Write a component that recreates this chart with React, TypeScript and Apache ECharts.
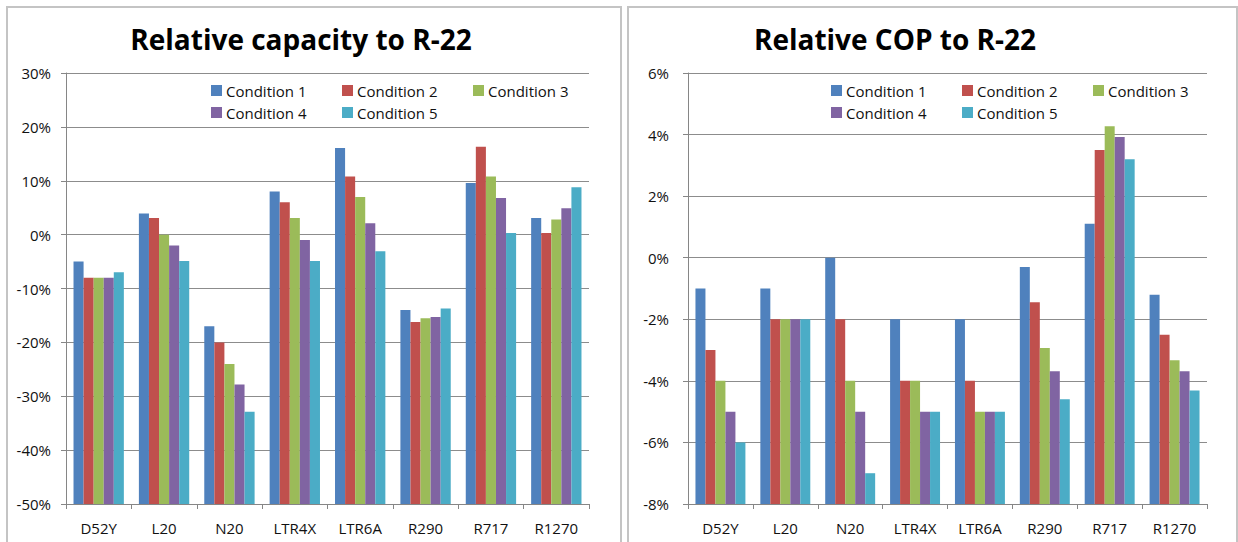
import React, { useEffect, useRef } from "react";
import * as echarts from "echarts";

const categories = ["D52Y", "L20", "N20", "LTR4X", "LTR6A", "R290", "R717", "R1270"];
const seriesNames = ["Condition 1", "Condition 2", "Condition 3", "Condition 4", "Condition 5"];
const colors = ["#4F81BD", "#C0504D", "#9BBB59", "#8064A2", "#4BACC6"];

// Relative capacity to R-22 (%), per condition, per refrigerant
const capacity1 = [-5, 3.9, -17, 8, 16.1, -14, 9.6, 3.1];
const capacity2 = [-8, 3.1, -20, 6, 10.8, -16.2, 16.3, 0.3];
const capacity3 = [-8, 0, -24, 3.1, 7, -15.5, 10.8, 2.8];
const capacity4 = [-8, -2, -27.8, -1, 2.1, -15.3, 6.8, 4.9];
const capacity5 = [-7, -4.9, -32.9, -4.9, -3.1, -13.7, 0.3, 8.8];

// Relative COP to R-22 (%)
const cop1 = [-1, -1, 0, -2, -2, -0.3, 1.1, -1.2];
const cop2 = [-3, -2, -2, -4, -4, -1.45, 3.5, -2.5];
const cop3 = [-4, -2, -4, -4, -5, -2.93, 4.27, -3.33];
const cop4 = [-5, -2, -5, -5, -5, -3.69, 3.92, -3.69];
const cop5 = [-6, -2, -7, -5, -5, -4.6, 3.2, -4.31];

const capacityTicks = { min: -50, max: 30, interval: 10 };
const copTicks = { min: -8, max: 6, interval: 2 };

const titles = ["Relative capacity to R-22", "Relative COP to R-22"];

const FONT = "'Open Sans', Lato, sans-serif";

export default function App() {
  const ref = useRef<HTMLDivElement>(null);

  useEffect(() => {
    if (!ref.current) return;
    const chart = echarts.init(ref.current, undefined, { renderer: "svg" });

    const capData = [capacity1, capacity2, capacity3, capacity4, capacity5];
    const copData = [cop1, cop2, cop3, cop4, cop5];

    const grids = [
      { left: 66, top: 73, width: 523, height: 431 },
      { left: 688, top: 73, width: 519, height: 431 },
    ];

    const makeX = (gridIndex: number) => ({
      type: "category",
      gridIndex,
      data: categories,
      position: "bottom",
      axisLine: { onZero: false, lineStyle: { color: "#868686", width: 1 } },
      axisTick: { show: true, length: 5, lineStyle: { color: "#868686" } },
      axisLabel: { color: "#111", fontSize: 15, fontFamily: FONT, margin: 16 },
      splitLine: { show: false },
    });

    // Excel-style bars grow from the bottom of the axis: the axis is offset so its
    // base sits at the axis minimum, and labels are shifted back by that minimum.
    const makeY = (gridIndex: number, t: { min: number; max: number; interval: number }, margin: number) => ({
      type: "value",
      gridIndex,
      min: 0,
      max: t.max - t.min,
      interval: t.interval,
      axisLine: { show: true, lineStyle: { color: "#868686", width: 1 } },
      axisTick: { show: true, length: 5, lineStyle: { color: "#868686" } },
      axisLabel: {
        color: "#111",
        fontSize: 15,
        fontFamily: FONT,
        margin,
        formatter: (v: number) => `${Math.round(v + t.min)}%`,
      },
      splitLine: { show: true, lineStyle: { color: "#8C8C8C", width: 1 } },
    });

    const series: any[] = [];
    capData.forEach((d, i) => {
      series.push({
        type: "bar",
        name: seriesNames[i],
        xAxisIndex: 0,
        yAxisIndex: 0,
        data: d.map((v) => v - capacityTicks.min),
        barGap: "0%",
        barCategoryGap: "23%",
        itemStyle: { color: colors[i] },
      });
    });
    copData.forEach((d, i) => {
      series.push({
        type: "bar",
        name: seriesNames[i],
        xAxisIndex: 1,
        yAxisIndex: 1,
        data: d.map((v) => v - copTicks.min),
        barGap: "0%",
        barCategoryGap: "23%",
        itemStyle: { color: colors[i] },
      });
    });

    const legendCols = [
      [211, 342, 473],
      [831, 962, 1093],
    ];
    const legendRows = [83, 105];
    const legends: any[] = [];
    legendCols.forEach((cols) => {
      seriesNames.forEach((name, i) => {
        legends.push({
          data: [name],
          left: cols[i % 3],
          top: legendRows[Math.floor(i / 3)],
          icon: "rect",
          itemWidth: 11,
          itemHeight: 11,
          itemGap: 4,
          padding: 0,
          selectedMode: false,
          textStyle: { color: "#111", fontSize: 15, fontFamily: FONT, padding: [0, 0, 0, -1] },
        });
      });
    });

    chart.setOption({
      animation: false,
      backgroundColor: "#fff",
      title: [
        {
          text: titles[0],
          left: 296,
          top: 20,
          textAlign: "center",
          textStyle: { fontSize: 28, fontWeight: "bold", color: "#000", fontFamily: FONT },
        },
        {
          text: titles[1],
          left: 890,
          top: 20,
          textAlign: "center",
          textStyle: { fontSize: 28, fontWeight: "bold", color: "#000", fontFamily: FONT },
        },
      ],
      legend: legends,
      grid: grids,
      xAxis: [makeX(0), makeX(1)],
      yAxis: [makeY(0, capacityTicks, 15), makeY(1, copTicks, 19)],
      series,
      graphic: [
        {
          type: "rect",
          shape: { x: 7, y: 7, width: 614, height: 600 },
          style: { fill: "none", stroke: "#C4C4C4", lineWidth: 2 },
          silent: true,
        },
        {
          type: "rect",
          shape: { x: 628, y: 7, width: 609, height: 600 },
          style: { fill: "none", stroke: "#C4C4C4", lineWidth: 2 },
          silent: true,
        },
      ],
    });

    return () => {
      chart.dispose();
    };
  }, []);

  return (
    <div
      ref={ref}
      style={{ position: "absolute", left: 0, top: 0, width: 1238, height: 542 }}
    />
  );
}
